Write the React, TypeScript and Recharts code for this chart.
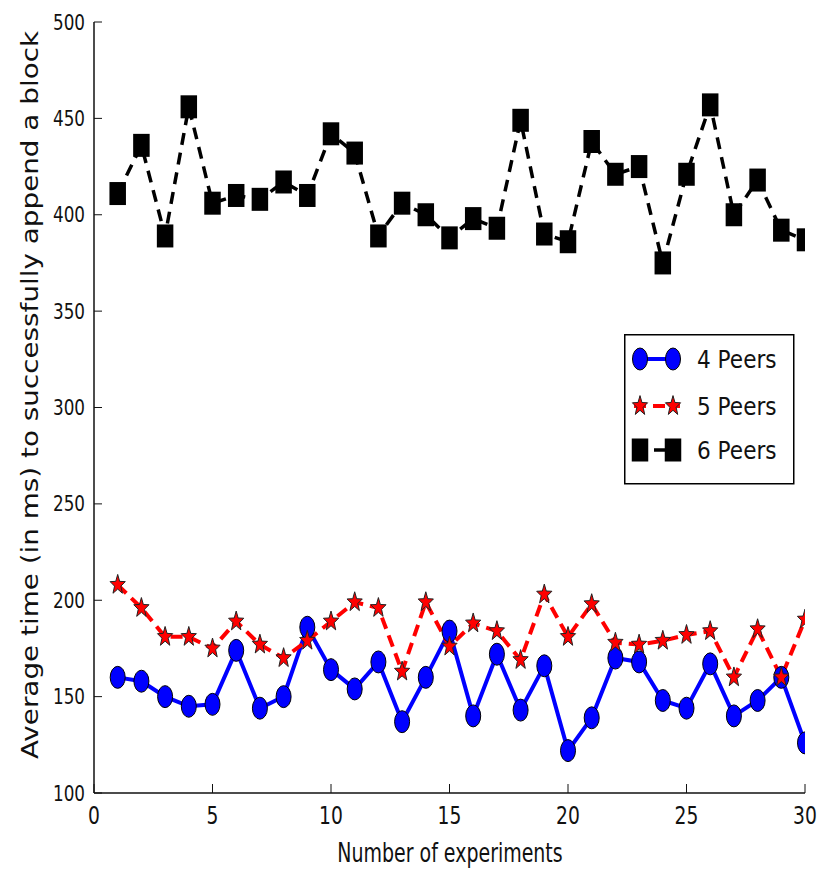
import { LineChart, Line, XAxis, YAxis, Legend } from 'recharts';

const experiments = [1, 2, 3, 4, 5, 6, 7, 8, 9, 10, 11, 12, 13, 14, 15, 16, 17, 18, 19, 20, 21, 22, 23, 24, 25, 26, 27, 28, 29, 30];
const peers4 = [160, 158, 150, 145, 146, 174, 144, 150, 186, 164, 154, 168, 137, 160, 184, 140, 172, 143, 166, 122, 139, 170, 168, 148, 144, 167, 140, 148, 160, 126];
const peers5 = [208, 196, 181, 181, 175, 189, 177, 170, 179, 189, 199, 196, 163, 199, 176, 188, 184, 169, 203, 181, 198, 178, 177, 179, 182, 184, 160, 185, 160, 190];
const peers6 = [411, 436, 389, 456, 406, 410, 408, 417, 410, 442, 432, 389, 406, 400, 388, 398, 393, 449, 390, 386, 438, 421, 425, 375, 421, 457, 400, 418, 392, 387];
const xTicks = [0, 5, 10, 15, 20, 25, 30];
const yTicks = [100, 150, 200, 250, 300, 350, 400, 450, 500];
const seriesNames = ['4 Peers', '5 Peers', '6 Peers'];

const data = experiments.map((x, i) => ({ x, p4: peers4[i], p5: peers5[i], p6: peers6[i] }));

const FONT = '"DejaVu Sans", sans-serif';
const AXIS = '#111';

// marker shapes (stretched vertically like the source image)
function circle(cx: number, cy: number, key?: any) {
  return <ellipse key={key} cx={cx} cy={cy} rx={7.5} ry={11} fill="#0000ff" stroke="#000" strokeWidth={1} />;
}

function star(cx: number, cy: number, key?: any) {
  const pts: string[] = [];
  for (let i = 0; i < 10; i++) {
    const a = ((-90 + i * 36) * Math.PI) / 180;
    const r = i % 2 === 0 ? 8 : 3.3;
    pts.push(`${cx + r * Math.cos(a)},${cy + r * Math.sin(a) * 1.3}`);
  }
  return <polygon key={key} points={pts.join(' ')} fill="#ff0000" stroke="#222" strokeWidth={1} />;
}

function square(cx: number, cy: number, key?: any) {
  return <rect key={key} x={cx - 8.25} y={cy - 11.5} width={16.5} height={23} fill="#000" />;
}

const dot = (fn: any) => (p: any) => fn(p.cx, p.cy, `${p.dataKey}-${p.index}`);

// ticks drawn inward, labels outside
const BottomTick = ({ x, y, payload }: any) => (
  <g>
    <line x1={x} y1={y} x2={x} y2={y - 9} stroke={AXIS} strokeWidth={1} />
    <text transform={`translate(${x},${y + 31}) scale(0.78,1)`} textAnchor="middle" fontFamily={FONT} fontSize={24} fill="#111">
      {payload.value}
    </text>
  </g>
);

const TopTick = ({ x, y }: any) => <line x1={x} y1={y} x2={x} y2={y + 9} stroke={AXIS} strokeWidth={1} />;

const LeftTick = ({ x, y, payload }: any) => (
  <g>
    <line x1={x} y1={y} x2={x + 8} y2={y} stroke={AXIS} strokeWidth={1} />
    <text transform={`translate(${x - 9},${y + 7.5}) scale(0.8,1)`} textAnchor="end" fontFamily={FONT} fontSize={21} fill="#111">
      {payload.value}
    </text>
  </g>
);

const RightTick = ({ x, y }: any) => <line x1={x} y1={y} x2={x - 8} y2={y} stroke={AXIS} strokeWidth={1} />;

const LegendBox = () => {
  const rows = [
    { y: 25, name: seriesNames[0], mk: circle, stroke: '#0000ff', dash: undefined, w: 4 },
    { y: 72, name: seriesNames[1], mk: star, stroke: '#ff0000', dash: '12 7', w: 4 },
    { y: 116, name: seriesNames[2], mk: square, stroke: '#000', dash: '12 8', w: 3.5 },
  ];
  return (
    <svg width={171} height={151} style={{ display: 'block' }}>
      <rect x={0.75} y={0.75} width={169} height={149} fill="#fff" stroke="#000" strokeWidth={1.5} />
      {rows.map((r) => (
        <g key={r.name}>
          <line x1={10} y1={r.y} x2={56} y2={r.y} stroke={r.stroke} strokeWidth={r.w} strokeDasharray={r.dash} />
          {r.mk(16, r.y)}
          {r.mk(49, r.y)}
          <text transform={`translate(73,${r.y + 9}) scale(0.9,1)`} fontFamily={FONT} fontSize={24} fill="#111">
            {r.name}
          </text>
        </g>
      ))}
    </svg>
  );
};

export default function App() {
  return (
    <div style={{ position: 'absolute', left: 0, top: 0, width: 829, height: 870, background: '#fff' }}>
      <LineChart width={829} height={870} data={data} margin={{ top: 22, right: 24, bottom: 0, left: 0 }}>
        <XAxis
          dataKey="x"
          type="number"
          domain={[0, 30]}
          allowDataOverflow
          ticks={xTicks}
          interval={0}
          height={77}
          tickSize={0}
          tickMargin={0}
          tick={<BottomTick />}
          axisLine={{ stroke: AXIS, strokeWidth: 1.5 }}
          label={{
            content: () => (
              <text transform="translate(450,862) scale(0.73,1)" textAnchor="middle" fontFamily={FONT} fontSize={26} fill="#111">
                Number of experiments
              </text>
            ),
          }}
        />
        <XAxis
          xAxisId="top"
          orientation="top"
          dataKey="x"
          type="number"
          domain={[0, 30]}
          ticks={xTicks}
          interval={0}
          height={0}
          tickSize={0}
          tickMargin={0}
          tick={<TopTick />}
          axisLine={{ stroke: AXIS, strokeWidth: 1.5 }}
        />
        <YAxis
          type="number"
          domain={[100, 500]}
          allowDataOverflow
          ticks={yTicks}
          interval={0}
          width={94}
          tickSize={0}
          tickMargin={0}
          tick={<LeftTick />}
          axisLine={{ stroke: AXIS, strokeWidth: 1.5 }}
          label={{
            content: () => (
              <text transform="translate(38,395) rotate(-90) scale(1.21,1)" textAnchor="middle" fontFamily={FONT} fontSize={23} fill="#111">
                Average time (in ms) to successfully append a block
              </text>
            ),
          }}
        />
        <YAxis
          yAxisId="right"
          orientation="right"
          type="number"
          domain={[100, 500]}
          ticks={yTicks}
          interval={0}
          width={0}
          tickSize={0}
          tickMargin={0}
          tick={<RightTick />}
          axisLine={{ stroke: AXIS, strokeWidth: 1.5 }}
        />
        <Legend
          layout="vertical"
          align="center"
          verticalAlign="middle"
          content={<LegendBox />}
          wrapperStyle={{ position: 'absolute', left: 624, top: 334, width: 171, height: 151 }}
        />
        <Line dataKey="p4" name={seriesNames[0]} stroke="#0000ff" strokeWidth={4} dot={dot(circle)} activeDot={false} isAnimationActive={false} />
        <Line dataKey="p5" name={seriesNames[1]} stroke="#ff0000" strokeWidth={4} strokeDasharray="12 7" dot={dot(star)} activeDot={false} isAnimationActive={false} />
        <Line dataKey="p6" name={seriesNames[2]} stroke="#000" strokeWidth={3.5} strokeDasharray="12 8" dot={dot(square)} activeDot={false} isAnimationActive={false} />
      </LineChart>
    </div>
  );
}
